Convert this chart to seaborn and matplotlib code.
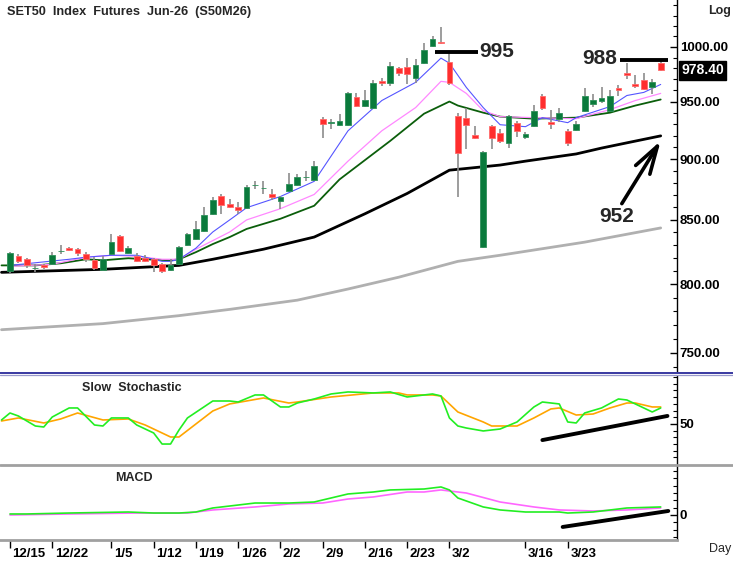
import numpy as np
import pandas as pd
import matplotlib
matplotlib.use("Agg")
import matplotlib.pyplot as plt
from matplotlib.lines import Line2D
from matplotlib.transforms import ScaledTranslation
import seaborn as sns

# ---------------- data ----------------
title = "SET50  Index  Futures  Jun-26  (S50M26)"
tick_days = [0, 5, 12, 17, 22, 27, 32, 37, 42, 47, 52, 61, 66]
tick_labels = ["12/15", "12/22", "1/5", "1/12", "1/19", "1/26", "2/2", "2/9",
               "2/16", "2/23", "3/2", "3/16", "3/23"]

opens = [809.7, 821.3, 819.0, 812.0, 814.3, 815.1, 825.3, 827.6, 826.8, 822.9,
         818.2, 810.5, 822.9, 837.1, 823.7, 821.3, 819.8, 819.0, 815.1, 810.5,
         815.1, 830.0, 834.7, 841.1, 854.8, 869.6, 863.0, 860.5, 859.7, 878.0,
         875.5, 870.5, 865.5, 873.0, 878.0, 884.6, 882.1, 934.8, 931.3, 929.5,
         929.5, 954.5, 946.4, 944.6, 968.2, 966.4, 980.3, 981.2, 970.9, 984.9,
         1001.0, 1004.8, 985.9, 937.5, 935.7, 920.7, 828.4, 928.6, 922.5, 913.8,
         931.3, 919.0, 928.6, 955.4, 932.2, 934.8, 924.2, 925.1, 941.9, 948.2,
         950.9, 941.9, 961.8, 975.6, 965.4, 969.1, 962.7, 984.9]
highs = [824.5, 822.9, 819.8, 815.1, 815.1, 824.5, 830.0, 828.4, 827.6, 824.5,
         820.6, 821.3, 838.6, 837.9, 829.2, 823.7, 822.1, 819.8, 815.9, 819.0,
         829.2, 839.4, 849.1, 860.5, 868.8, 870.5, 867.1, 864.6, 878.0, 881.3,
         881.3, 874.7, 869.6, 888.0, 887.1, 889.8, 898.2, 936.6, 934.8, 939.2,
         958.2, 957.3, 960.0, 969.1, 970.9, 985.9, 981.2, 989.6, 988.7, 1003.8,
         1010.5, 1019.2, 994.3, 940.1, 944.6, 928.6, 906.8, 929.5, 926.0, 938.4,
         933.0, 923.4, 947.3, 956.4, 942.8, 944.6, 926.0, 933.0, 961.8, 956.4,
         962.7, 960.0, 964.5, 984.9, 973.8, 975.6, 970.0, 986.8]
lows = [808.2, 815.9, 812.0, 809.0, 811.3, 814.3, 822.9, 825.3, 821.3, 816.7,
        810.5, 809.7, 822.1, 824.5, 822.9, 816.7, 816.7, 809.0, 808.2, 809.7,
        814.3, 829.2, 833.9, 840.3, 854.0, 854.8, 859.7, 854.8, 858.9, 874.7,
        870.5, 866.3, 858.9, 872.2, 877.2, 881.3, 881.3, 918.1, 926.0, 928.6,
        928.6, 945.5, 945.5, 943.7, 963.6, 963.6, 972.8, 965.4, 966.4, 984.0,
        1000.0, 1002.9, 964.5, 868.8, 908.4, 917.2, 827.6, 908.4, 913.8, 909.3,
        919.0, 917.2, 927.7, 942.8, 926.0, 932.2, 911.1, 924.2, 941.0, 945.5,
        949.1, 941.0, 955.4, 970.0, 961.8, 960.0, 956.4, 977.5]
closes = [823.7, 817.4, 814.3, 812.4, 812.8, 822.1, 825.6, 826.0, 823.7, 819.0,
          812.0, 819.0, 832.3, 825.3, 827.6, 817.4, 817.4, 814.3, 809.7, 814.3,
          828.4, 838.6, 842.7, 854.0, 866.3, 862.2, 860.5, 858.0, 876.3, 878.5,
          875.8, 868.8, 868.8, 878.9, 884.6, 885.0, 894.0, 930.4, 931.5, 933.0,
          957.3, 946.4, 951.8, 966.4, 966.4, 982.1, 975.6, 974.7, 983.0, 997.2,
          1007.6, 1003.8, 966.4, 905.1, 929.5, 918.1, 905.9, 918.1, 915.5, 937.5,
          924.2, 921.6, 941.9, 944.6, 930.4, 940.1, 913.8, 930.4, 955.4, 951.8,
          953.6, 955.4, 960.0, 973.8, 963.6, 960.9, 967.3, 978.4]

# moving averages
ma_fast_day = [0, 7, 9, 12, 15, 17, 18, 19, 20, 22, 24, 26, 28, 32, 36, 40, 44, 48,
               51, 52, 54, 56, 58, 61, 63, 66, 67, 71, 73, 75, 77]
ma_fast = [814.3, 819.0, 820.6, 822.1, 822.1, 819.0, 817.4, 817.4, 819.0, 827.6,
           840.3, 849.9, 859.7, 868.8, 881.3, 924.2, 950.9, 967.3, 989.6, 984.9,
           962.7, 944.6, 929.5, 927.8, 935.7, 931.3, 935.7, 945.5, 955.4, 958.2, 965.4]
ma_mid_day = [0, 5, 9, 12, 15, 18, 20, 22, 26, 28, 32, 36, 40, 44, 48, 51, 52, 54,
              56, 58, 62, 67, 71, 74, 77]
ma_mid = [813.6, 815.1, 820.6, 822.1, 821.3, 819.0, 819.0, 826.8, 840.3, 849.9,
          858.9, 870.5, 898.2, 924.2, 944.6, 968.2, 967.3, 957.3, 941.9, 936.6,
          935.7, 934.8, 942.8, 950.9, 957.3]
ma_slow_day = [-1, 3, 6, 9, 11, 14, 16, 19, 20, 22, 24, 26, 28, 32, 36, 39, 45, 49,
               52, 53, 56, 58, 62, 67, 71, 74, 77]
ma_slow = [814.3, 814.3, 815.9, 819.0, 818.2, 819.8, 819.0, 818.2, 819.0, 824.5,
           830.8, 836.3, 842.7, 850.8, 861.3, 882.9, 915.5, 939.2, 950.0, 946.4,
           940.1, 936.6, 934.8, 935.7, 940.1, 946.4, 951.8]
ma_long_day = [-1, 11, 20, 24, 30, 36, 42, 47, 52, 58, 61, 67, 70, 73, 77]
ma_long = [809.0, 811.3, 814.3, 819.0, 826.8, 836.3, 854.8, 871.3, 890.6, 894.9,
           898.2, 904.3, 909.3, 913.8, 919.8]
ma_200_day = [-1, 11, 20, 26, 34, 40, 46, 53, 58, 68, 77]
ma_200 = [766.5, 770.9, 776.7, 781.3, 788.1, 796.4, 805.3, 817.4, 822.1, 832.3, 843.5]

# slow stochastic
k_day = [-1, 0, 1, 3, 4, 5, 7, 8, 10, 11, 12, 14, 15, 17, 18, 19, 20, 21, 24, 26,
         27, 29, 30, 32, 33, 34, 36, 38, 40, 43, 45, 47, 50, 51, 52, 53, 54, 56,
         58, 60, 62, 63, 65, 66, 67, 68, 70, 72, 73, 74, 76, 77]
k_val = [56.0, 66.4, 61.9, 47.0, 45.5, 60.4, 73.9, 73.9, 48.5, 47.0, 59.0, 59.0,
         48.5, 36.6, 20.1, 20.1, 41.0, 59.0, 84.3, 84.3, 82.8, 93.3, 93.3, 75.4,
         75.4, 81.3, 87.3, 94.8, 97.8, 96.3, 97.8, 90.3, 94.8, 91.8, 59.0, 47.0,
         44.0, 39.6, 42.5, 53.0, 75.4, 82.8, 79.9, 53.0, 51.5, 66.4, 73.9, 87.3,
         85.8, 79.9, 67.9, 73.9]
d_day = [-1, 1, 4, 6, 8, 11, 14, 16, 19, 20, 24, 26, 30, 33, 34, 38, 43, 46, 47,
         50, 51, 53, 56, 57, 60, 62, 64, 65, 67, 69, 71, 73, 74, 76, 77]
d_val = [54.5, 59.0, 51.5, 57.5, 66.4, 56.0, 57.5, 48.5, 30.6, 30.6, 69.4, 79.9,
         88.8, 81.3, 82.8, 90.3, 96.3, 96.3, 93.3, 93.3, 91.8, 67.9, 53.0, 47.0,
         47.0, 59.0, 72.4, 73.9, 63.4, 64.9, 73.9, 81.3, 81.3, 75.4, 75.4]
stoch_trend_day = [63.0, 77.8]
stoch_trend_val = [26.0, 62.0]

# MACD
macd_day = [0, 2, 7, 14, 17, 20, 22, 24, 26, 29, 33, 36, 38, 40, 43, 45, 49, 51,
            52, 53, 56, 58, 61, 65, 66, 69, 73, 77]
macd_val = [1.4, 1.4, 2.7, 4.1, 2.7, 2.7, 4.1, 9.6, 12.3, 16.4, 16.4, 17.8, 23.3,
            28.8, 31.5, 34.3, 35.6, 38.4, 34.3, 23.3, 11.0, 6.9, 4.1, 4.1, 2.7,
            4.1, 9.6, 11.0]
signal_day = [0, 7, 15, 21, 24, 29, 33, 37, 40, 43, 47, 49, 51, 54, 58, 62, 65,
              69, 73, 77]
signal_val = [0.0, 1.4, 2.7, 2.7, 6.9, 11.0, 15.1, 16.4, 21.9, 24.7, 31.5, 31.5,
              34.3, 30.1, 17.8, 11.0, 6.9, 5.5, 6.9, 9.6]
macd_trend_day = [65.4, 77.9]
macd_trend_val = [-16.4, 5.5]

# annotations
resist_levels = [995, 988]
resist_from = [50.3, 72.2]
resist_to = [55.4, 77.9]
resist_label_day = [57.6, 69.8]
arrow_label = "952"
arrow_label_pos = (71.8, 853.0)
arrow_tail = (72.4, 863.0)
arrow_head = (77.0, 915.5)
last_price = 978.40

# ---------------- style ----------------
sns.set_style("white")
plt.rcParams['font.family'] = ['Liberation Sans', 'DejaVu Sans']

W, H = 733, 561
fig = plt.figure(figsize=(W / 100, H / 100), dpi=100)


def px_axes(x0, y0, x1, y1):
    return fig.add_axes([x0 / W, 1 - y1 / H, (x1 - x0) / W, (y1 - y0) / H])


ax1 = px_axes(0, 0, 677, 371)
ax2 = px_axes(0, 376, 677, 464)
ax3 = px_axes(0, 466, 677, 540)
XMIN, XMAX = -1.18, 78.93
for ax in (ax1, ax2, ax3):
    ax.set_xlim(XMIN, XMAX)
    ax.set_facecolor('white')
    for s in ('top', 'left', 'bottom'):
        ax.spines[s].set_visible(False)
    ax.spines['right'].set_color('black')
    ax.spines['right'].set_linewidth(1.0)
    ax.yaxis.tick_right()
    ax.tick_params(axis='y', which='both', direction='in', colors='black',
                   labelsize=9.5, pad=2)
    ax.tick_params(axis='y', which='major', length=5, width=1)
    ax.tick_params(axis='y', which='minor', length=3, width=0.8)

# ---------------- main panel ----------------
ax1.set_yscale('log')
ax1.set_ylim(737.3, 1045.2)
sns.lineplot(x=ma_200_day, y=ma_200, ax=ax1, color='#b0b0b0', lw=2.0,
             estimator=None, sort=False, zorder=1)
sns.lineplot(x=ma_long_day, y=ma_long, ax=ax1, color='black', lw=2.0,
             estimator=None, sort=False, zorder=1)
sns.lineplot(x=ma_slow_day, y=ma_slow, ax=ax1, color='#0b5e0b', lw=1.3,
             estimator=None, sort=False, zorder=2)
sns.lineplot(x=ma_mid_day, y=ma_mid, ax=ax1, color='#ff88ff', lw=0.9,
             estimator=None, sort=False, zorder=2)
sns.lineplot(x=ma_fast_day, y=ma_fast, ax=ax1, color='#5555ff', lw=0.8,
             estimator=None, sort=False, zorder=2)

df = pd.DataFrame(dict(day=np.arange(len(opens)), open=opens, high=highs,
                       low=lows, close=closes))
df['bottom'] = df[['open', 'close']].min(axis=1)
df['height'] = (df['close'] - df['open']).abs()
up = df['close'] >= df['open']
ax1.vlines(df['day'], df['low'], df['high'], color='#8c8c8c', lw=1.2, zorder=3)
ax1.bar(df.loc[up, 'day'], df.loc[up, 'height'], bottom=df.loc[up, 'bottom'],
        width=0.68, color='#0a7a3c', edgecolor='#2f8f5a', lw=0.6, zorder=4)
ax1.bar(df.loc[~up, 'day'], df.loc[~up, 'height'], bottom=df.loc[~up, 'bottom'],
        width=0.68, color='#ff2e2e', edgecolor='#ff6a6a', lw=0.6, zorder=4)

major = [750, 800, 850, 900, 950, 1000]
ax1.set_yticks(major)
ax1.set_yticklabels([f"{v:.2f}" for v in major], fontweight='bold')
ax1.set_yticks([v for v in range(740, 1050, 10) if v not in major], minor=True)
ax1.yaxis.set_minor_formatter(plt.NullFormatter())
ax1.set_xticks([])

for lvl, x0, x1, xl in zip(resist_levels, resist_from, resist_to, resist_label_day):
    ax1.hlines(lvl, x0, x1, color='black', lw=2.8, zorder=6)
    ax1.text(xl, lvl * 1.001, str(lvl), ha='center', va='center',
             fontsize=15, fontweight='bold', zorder=6)
ax1.text(arrow_label_pos[0], arrow_label_pos[1], arrow_label, ha='center',
         va='center', fontsize=15, fontweight='bold', zorder=6)
ax1.annotate('', xy=arrow_head, xytext=arrow_tail,
             arrowprops=dict(arrowstyle='->,head_length=1.0,head_width=0.3',
                             mutation_scale=20, lw=2.6, color='black',
                             shrinkA=0, shrinkB=0), zorder=6)
ax1.annotate(f"{last_price:.2f}", xy=(1.0, last_price),
             xycoords=('axes fraction', 'data'), xytext=(3, 0),
             textcoords='offset points', ha='left', va='center', color='white',
             fontsize=10, fontweight='bold', annotation_clip=False,
             bbox=dict(boxstyle='square,pad=0.18', fc='black', ec='black'))
ax1.set_xlabel('')
ax1.set_ylabel('')

# ---------------- stochastic ----------------
ax2.set_ylim(-9.7, 121.6)
sns.lineplot(x=d_day, y=d_val, ax=ax2, color='#ffa500', lw=1.2,
             estimator=None, sort=False)
sns.lineplot(x=k_day, y=k_val, ax=ax2, color='#22ee22', lw=1.2,
             estimator=None, sort=False)
sns.lineplot(x=stoch_trend_day, y=stoch_trend_val, ax=ax2, color='black', lw=2.8,
             estimator=None, sort=False)
ax2.set_yticks([50])
ax2.set_yticklabels(["50"], fontweight='bold')
ax2.set_yticks([v for v in range(0, 121, 10) if v != 50], minor=True)
ax2.set_xticks([])
ax2.set_xlabel('')
ax2.set_ylabel('')

# ---------------- MACD ----------------
ax3.set_ylim(-34.25, 67.1)
sns.lineplot(x=signal_day, y=signal_val, ax=ax3, color='#ff66ff', lw=1.2,
             estimator=None, sort=False)
sns.lineplot(x=macd_day, y=macd_val, ax=ax3, color='#22ee22', lw=1.2,
             estimator=None, sort=False)
sns.lineplot(x=macd_trend_day, y=macd_trend_val, ax=ax3, color='black', lw=2.8,
             estimator=None, sort=False)
ax3.set_yticks([0])
ax3.set_yticklabels(["0"], fontweight='bold')
ax3.set_yticks([v for v in range(-30, 61, 10) if v != 0], minor=True)
ax3.spines['bottom'].set_visible(True)
ax3.spines['bottom'].set_color('#a0a0a0')
ax3.spines['bottom'].set_linewidth(2.0)
ax3.set_xticks(tick_days)
ax3.set_xticklabels(tick_labels, fontweight='bold', fontsize=9.5, ha='left')
ax3.tick_params(axis='x', direction='out', length=6, width=1, colors='black', pad=0)
ax3.tick_params(axis='x', which='major', bottom=True)
for lbl in ax3.get_xticklabels():
    lbl.set_transform(lbl.get_transform() + ScaledTranslation(0.025, 0, fig.dpi_scale_trans))
ax3.set_xlabel('')
ax3.set_ylabel('')

# ---------------- separators and labels ----------------
fig.add_artist(Line2D([0, 1], [1 - 372.5 / H] * 2, color='#2a2a9a', lw=1.3))
fig.add_artist(Line2D([0, 1], [1 - 375.2 / H] * 2, color='#9a9acc', lw=0.9))
fig.add_artist(Line2D([0, 1], [1 - 464.8 / H] * 2, color='#a0a0a0', lw=2.0))

fig.text(7 / W, 1 - 12 / H, title, fontsize=9.2, fontweight='bold', va='center', ha='left')
fig.text(708 / W, 1 - 11 / H, "Log", fontsize=9, fontweight='bold', va='center', ha='left')
fig.text(709 / W, 1 - 549 / H, "Day", fontsize=9, va='center', ha='left')
fig.text(82 / W, 1 - 388 / H, "Slow  Stochastic", fontsize=9, fontweight='bold',
         va='center', ha='left')
fig.text(115 / W, 1 - 478 / H, "MACD", fontsize=9, fontweight='bold',
         va='center', ha='left')

fig.savefig("out.png", dpi=100)
